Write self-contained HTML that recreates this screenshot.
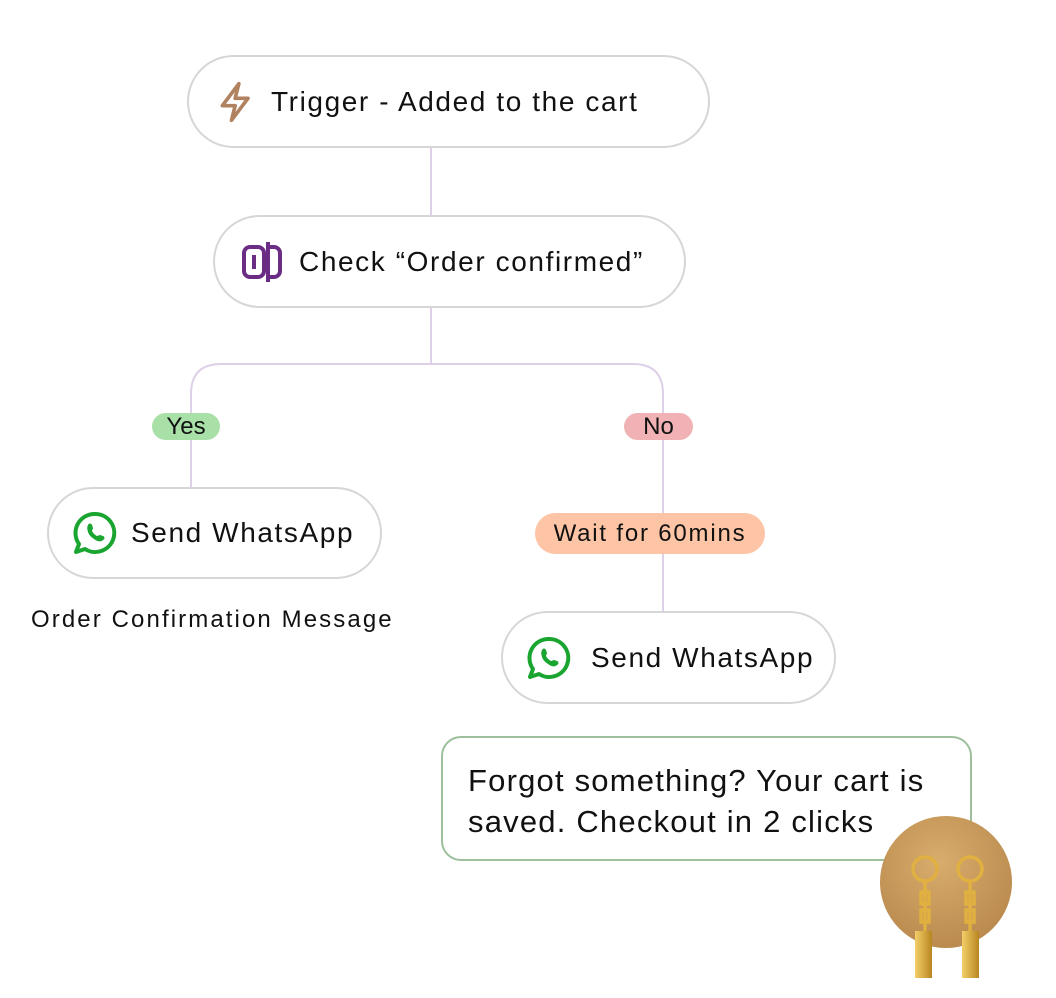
<!DOCTYPE html>
<html><head><meta charset="utf-8"><style>
body{margin:0;width:1056px;height:998px;background:#fff;position:relative;overflow:hidden;font-family:"Liberation Sans",sans-serif;color:#111}
.n{position:absolute;box-sizing:border-box;border:2px solid #d6d6d6;border-radius:48px;background:#fff;display:flex;align-items:center;font-size:28px;letter-spacing:1.6px;white-space:nowrap}
.p{position:absolute;border-radius:14px;display:flex;align-items:center;justify-content:center;font-size:24px;white-space:nowrap}
svg{position:absolute;left:0;top:0}
</style></head><body>
<svg width="1056" height="998">
<g fill="none" stroke="#ddd0e8" stroke-width="2">
<path d="M431 147V215"/>
<path d="M431 307V364"/>
<path d="M431 364H221Q191 364 191 394V487"/>
<path d="M431 364H633Q663 364 663 394V611"/>
</g>
</svg>
<div class="n" style="left:187px;top:55px;width:523px;height:93px;padding-left:26px">
<svg style="position:relative;margin-right:12px" width="44" height="44" viewBox="0 0 24 24"><path d="M13 2L4 14h7l-2 8 9-12h-7l2-8z" fill="none" stroke="#b08260" stroke-width="2" stroke-linejoin="round"/></svg>Trigger - Added to the cart</div>
<div class="n" style="left:213px;top:215px;width:473px;height:93px;padding-left:26px">
<svg style="position:relative;margin-right:12px" width="46" height="44" viewBox="0 0 46 44"><rect x="3" y="7" width="20" height="30" rx="6" fill="none" stroke="#6b2d83" stroke-width="4"/><path d="M13 15v14" stroke="#6b2d83" stroke-width="4"/><path d="M27 2v40M27 7h6a6 6 0 0 1 6 6v18a6 6 0 0 1-6 6h-6" fill="none" stroke="#6b2d83" stroke-width="4"/></svg>Check “Order confirmed”</div>
<div class="p" style="left:152px;top:413px;width:68px;height:27px;background:#a9e0a8">Yes</div>
<div class="p" style="left:624px;top:413px;width:69px;height:27px;background:#f1b2b5">No</div>
<div class="p" style="left:535px;top:513px;width:230px;height:41px;background:#fdc5a6;border-radius:21px;letter-spacing:1.8px">Wait for 60mins</div>
<div class="n" style="left:47px;top:487px;width:335px;height:92px;padding-left:22px">
<svg style="position:relative;margin-right:12px" width="48" height="48" viewBox="0 0 48 48"><path d="M24 5a19 19 0 1 1-10 35l-9 3 3-8A19 19 0 0 1 24 5z" fill="none" stroke="#1aa531" stroke-width="4" stroke-linejoin="round"/><path d="M17 16c1-2 3-2 4 0l1 3c0 1-1 2-1 3 1 2 3 4 5 5 1 0 2-1 3-1l3 1c2 1 2 3 0 4-2 2-5 2-9-1-3-2-5-4-6-7-1-3-1-5 0-7z" fill="#1aa531"/></svg>Send WhatsApp</div>
<div style="position:absolute;left:31px;top:606px;font-size:24px;letter-spacing:2.1px;white-space:nowrap">Order Confirmation Message</div>
<div class="n" style="left:501px;top:611px;width:335px;height:93px;padding-left:22px">
<svg style="position:relative;margin-right:18px" width="48" height="48" viewBox="0 0 48 48"><path d="M24 5a19 19 0 1 1-10 35l-9 3 3-8A19 19 0 0 1 24 5z" fill="none" stroke="#1aa531" stroke-width="4" stroke-linejoin="round"/><path d="M17 16c1-2 3-2 4 0l1 3c0 1-1 2-1 3 1 2 3 4 5 5 1 0 2-1 3-1l3 1c2 1 2 3 0 4-2 2-5 2-9-1-3-2-5-4-6-7-1-3-1-5 0-7z" fill="#1aa531"/></svg>Send WhatsApp</div>
<div style="position:absolute;left:441px;top:736px;width:531px;height:125px;box-sizing:border-box;border:2px solid #9dbf9c;border-radius:20px;padding:22px 0 0 25px;font-size:31px;letter-spacing:1.2px;line-height:41px;white-space:nowrap">Forgot something? Your cart is<br>saved. Checkout in 2 clicks</div>
<svg width="1056" height="998">
<defs><radialGradient id="g" cx="0.45" cy="0.35" r="0.7"><stop offset="0" stop-color="#d8ad6c"/><stop offset="1" stop-color="#b8874c"/></radialGradient>
<linearGradient id="gd" x1="0" x2="1"><stop offset="0" stop-color="#f3cf6a"/><stop offset="1" stop-color="#b8861f"/></linearGradient></defs>
<circle cx="946" cy="882" r="66" fill="url(#g)"/>
<g stroke="#e0b040" stroke-width="3.5" fill="none">
<circle cx="925" cy="869" r="12"/><circle cx="970" cy="869" r="12"/>
<path d="M925 881v50M970 881v50"/>
<rect x="921" y="892" width="8" height="12"/><rect x="921" y="910" width="8" height="12"/>
<rect x="966" y="892" width="8" height="12"/><rect x="966" y="910" width="8" height="12"/></g>
<rect x="915" y="931" width="17" height="47" fill="url(#gd)"/>
<rect x="962" y="931" width="17" height="47" fill="url(#gd)"/>
</svg>
</body></html>
